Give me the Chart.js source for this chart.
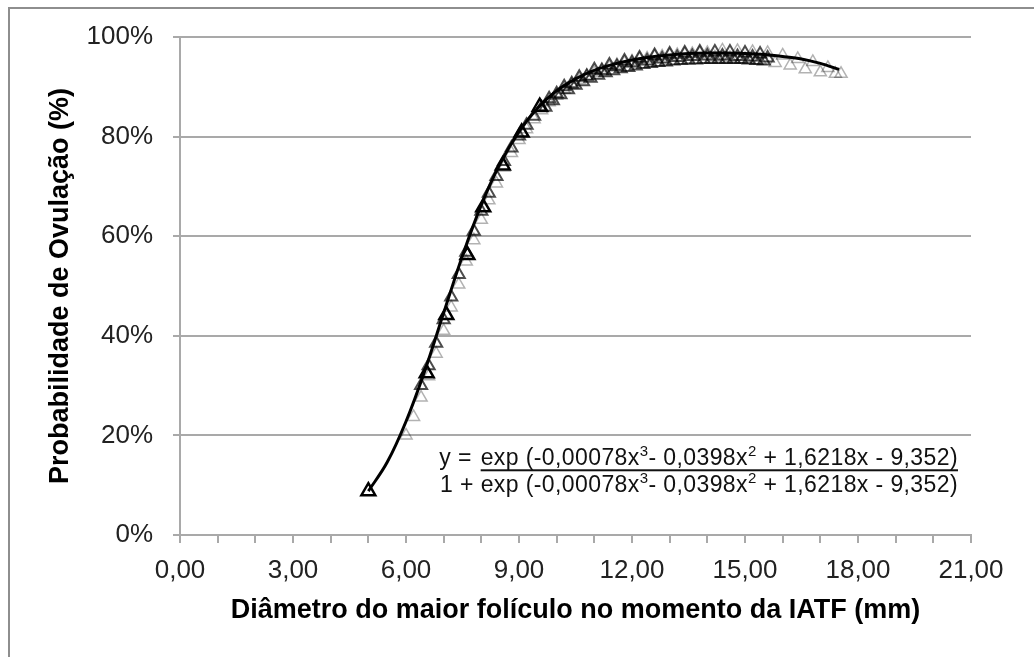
<!DOCTYPE html>
<html>
<head>
<meta charset="utf-8">
<script src="https://cdn.jsdelivr.net/npm/chart.js@4.4.1/dist/chart.umd.min.js"></script>
<style>
body { margin: 0; background: #fff; }
#wrap { position: relative; width: 1034px; height: 657px; overflow: hidden; }
#frame { position: absolute; left: 8px; top: 7px; width: 1100px; height: 700px; border-left: 2px solid #8e8e8e; border-top: 2px solid #8e8e8e; }
#chart { position: absolute; left: 0; top: 0; }
</style>
</head>
<body>
<div id="wrap">
  <div id="frame"></div>
  <canvas id="chart" width="1034" height="657"></canvas>
</div>
<script>
// fitted curve
var curveX = [5.0, 5.5, 6.0, 6.5, 7.0, 7.5, 8.0, 8.5, 9.0, 9.5, 10.0, 10.5, 11.0, 11.5, 12.0, 12.5, 13.0, 13.5, 14.0, 14.5, 15.0, 15.5, 16.0, 16.5, 17.0, 17.5];
var curveY = [8.8, 14.6, 22.8, 33.0, 44.6, 56.1, 66.3, 74.6, 81.0, 85.8, 89.2, 91.6, 93.3, 94.5, 95.4, 96.0, 96.4, 96.7, 96.8, 96.8, 96.7, 96.5, 96.1, 95.6, 94.7, 93.5];

// heavy black triangles
var boldX = [5.0, 6.55, 7.07, 7.63, 8.05, 8.57, 9.07, 9.55];
var boldY = [8.8, 32.5, 44.2, 56.2, 65.8, 74.2, 80.8, 86.0];

// dark triangles of the band
var darkX = [6.4, 6.6, 6.8, 7.0, 7.2, 7.4, 7.6, 7.8, 8.0, 8.2, 8.4, 8.6, 8.8, 9.0, 9.2, 9.4,
  9.6, 9.8, 10.0, 10.2, 10.4, 10.6, 10.8, 11.0, 11.2, 11.4, 11.6, 11.8, 12.0, 12.2, 12.4, 12.6,
  12.8, 13.0, 13.2, 13.4, 13.6, 13.8, 14.0, 14.2, 14.4, 14.6, 14.8, 15.0, 15.2, 15.4, 15.6];
var darkY = [30.0, 34.0, 38.5, 43.2, 47.8, 52.3, 56.8, 61.0, 65.0, 68.6, 72.0, 75.0, 77.7, 80.1, 82.3, 84.1,
  85.8, 87.6, 88.6, 90.0, 90.6, 91.9, 92.1, 93.4, 93.2, 94.4, 94.1, 95.2, 94.8, 95.8, 95.2, 96.3,
  95.6, 96.6, 95.9, 96.8, 96.1, 97.0, 96.2, 97.0, 96.2, 97.0, 96.1, 96.8, 96.0, 96.6, 95.8];

// dark triangles on the lower edge of the band
var darkLowX = [9.7, 9.9, 10.1, 10.3, 10.5, 10.7, 10.9, 11.1, 11.3, 11.5, 11.7, 11.9, 12.1, 12.3, 12.5,
  12.7, 12.9, 13.1, 13.3, 13.5, 13.7, 13.9, 14.1, 14.3, 14.5, 14.7, 14.9, 15.1, 15.3, 15.5];
var darkLowY = [85.9, 87.2, 88.4, 89.4, 90.3, 91.0, 91.7, 92.3, 92.8, 93.2, 93.6, 93.9, 94.2, 94.5, 94.7,
  94.9, 95.0, 95.2, 95.3, 95.4, 95.4, 95.5, 95.5, 95.5, 95.5, 95.5, 95.5, 95.4, 95.3, 95.2];

// light grey triangles
var lightX = [6.0, 6.2, 6.4, 6.6, 6.8, 7.0, 7.2, 7.4, 7.6, 7.8, 8.0, 8.2, 8.4, 8.6, 8.8, 9.0, 9.2, 9.4,
  9.6, 9.8, 10.0, 10.2, 10.4, 10.6, 10.8, 11.0, 11.2, 11.4, 11.6, 11.8, 12.0, 12.2, 12.4, 12.6, 12.8,
  13.0, 13.2, 13.4, 13.6, 13.8, 14.0, 14.2, 14.4, 14.6, 14.8, 15.0, 15.2, 15.4, 15.6, 15.8, 16.0,
  16.2, 16.4, 16.6, 16.8, 17.0, 17.2, 17.4, 17.55];
var lightY = [20.0, 23.7, 27.6, 31.9, 36.4, 41.0, 45.7, 50.3, 54.9, 59.2, 63.3, 67.2, 70.6, 73.8, 76.7, 79.3, 81.5, 83.5,
  85.3, 86.9, 88.2, 89.4, 90.4, 91.4, 92.1, 92.8, 93.4, 93.9, 94.4, 94.8, 95.1, 95.5, 95.7, 96.0, 96.1,
  96.3, 96.4, 96.5, 96.6, 96.7, 96.8, 95.9, 97.3, 95.8, 97.2, 95.6, 97.0, 95.3, 96.8, 94.8, 96.3,
  94.3, 95.6, 93.5, 95.0, 92.9, 93.8, 92.6, 92.6];

var yTicks = [0, 20, 40, 60, 80, 100];

// equation text: normal / superscript pieces alternate
var eqNum = ['exp (-0,00078x', '3', '- 0,0398x', '2', ' + 1,6218x - 9,352)'];
var eqDen = ['1 + exp (-0,00078x', '3', '- 0,0398x', '2', ' + 1,6218x - 9,352)'];
var eqLead = 'y = ';

var FONT = "'Liberation Sans', Arial, sans-serif";
var eqFont = '23px ' + FONT;
var supFont = '15px ' + FONT;

function toPoints(xs, ys) {
  return xs.map(function(x, i) { return {x: x, y: ys[i]}; });
}

function segWidth(ctx, segs) {
  var w = 0;
  segs.forEach(function(s, i) {
    ctx.font = (i % 2) ? supFont : eqFont;
    w += ctx.measureText(s).width;
  });
  return w;
}

function drawSegs(ctx, segs, x, base) {
  segs.forEach(function(s, i) {
    var sup = i % 2 === 1;
    ctx.font = sup ? supFont : eqFont;
    ctx.fillText(s, x, sup ? base - 9 : base);
    x += ctx.measureText(s).width;
  });
}

var equationPlugin = {
  id: 'equation',
  afterDatasetsDraw: function(chart) {
    var ctx = chart.ctx, area = chart.chartArea, ys = chart.scales.y;
    var right = area.right - 13;
    var base1 = ys.getPixelForValue(14), base2 = ys.getPixelForValue(8.7);
    ctx.save();
    ctx.fillStyle = '#111';
    ctx.textAlign = 'left';
    ctx.textBaseline = 'alphabetic';
    ctx.letterSpacing = '0.4px';
    var w1 = segWidth(ctx, eqNum), w2 = segWidth(ctx, eqDen);
    drawSegs(ctx, eqDen, right - w2, base2);
    var x1 = right - w1;
    drawSegs(ctx, eqNum, x1, base1);
    ctx.font = eqFont;
    ctx.fillText(eqLead, x1 - ctx.measureText(eqLead).width - 2, base1);
    ctx.fillRect(x1, base1 + 4, w1, 2);
    ctx.restore();
  }
};

var gridGrey = '#a9a9a9';

new Chart(document.getElementById('chart'), {
  type: 'scatter',
  data: {
    datasets: [
      {
        data: toPoints(boldX, boldY),
        pointStyle: 'triangle',
        pointRadius: 8,
        borderColor: '#000',
        backgroundColor: 'rgba(255,255,255,0)',
        pointBorderWidth: 2.5,
        order: 0
      },
      {
        data: toPoints(curveX, curveY),
        showLine: true,
        pointRadius: 0,
        borderColor: '#000',
        borderWidth: 3,
        cubicInterpolationMode: 'monotone',
        order: 1
      },
      {
        data: toPoints(darkX, darkY).concat(toPoints(darkLowX, darkLowY)),
        pointStyle: 'triangle',
        pointRadius: 7,
        borderColor: 'rgba(0,0,0,0.7)',
        backgroundColor: 'rgba(255,255,255,0)',
        pointBorderWidth: 2,
        order: 2
      },
      {
        data: toPoints(lightX, lightY),
        pointStyle: 'triangle',
        pointRadius: 7,
        borderColor: 'rgba(0,0,0,0.3)',
        backgroundColor: 'rgba(255,255,255,0)',
        pointBorderWidth: 1.5,
        order: 3
      }
    ]
  },
  options: {
    responsive: false,
    animation: false,
    layout: { padding: { left: 0, top: 37, right: 63, bottom: 0 } },
    plugins: { legend: { display: false }, tooltip: { enabled: false } },
    scales: {
      x: {
        type: 'linear',
        min: 0, max: 21,
        afterFit: function(scale) { scale.height = 122; },
        grid: { drawOnChartArea: false, drawTicks: true, tickLength: 8, color: gridGrey, lineWidth: 2 },
        border: { display: true, color: gridGrey, width: 2 },
        ticks: {
          stepSize: 1, autoSkip: false, maxRotation: 0, padding: 12,
          color: '#222', font: { family: FONT, size: 26 },
          callback: function(v) { return v % 3 === 0 ? v.toFixed(2).replace('.', ',') : ''; }
        },
        title: {
          display: true, text: 'Diâmetro do maior folículo no momento da IATF (mm)',
          color: '#000', font: { family: FONT, size: 27, weight: 'bold', lineHeight: 1.2 },
          padding: { top: 0, bottom: 30 }
        }
      },
      y: {
        min: 0, max: 100,
        afterFit: function(scale) { scale.width = 180; },
        afterBuildTicks: function(scale) { scale.ticks = yTicks.map(function(v) { return {value: v}; }); },
        grid: { color: gridGrey, lineWidth: 2, tickLength: 7 },
        border: { display: true, color: gridGrey, width: 2 },
        ticks: {
          padding: 20, color: '#222', font: { family: FONT, size: 26 },
          callback: function(v) { return v + '%'; }
        },
        title: {
          display: true, text: 'Probabilidade de Ovulação (%)',
          color: '#000', font: { family: FONT, size: 27, weight: 'bold', lineHeight: 1.2 },
          padding: { top: 44, bottom: 0 }
        }
      }
    }
  },
  plugins: [equationPlugin]
});
</script>
</body>
</html>
